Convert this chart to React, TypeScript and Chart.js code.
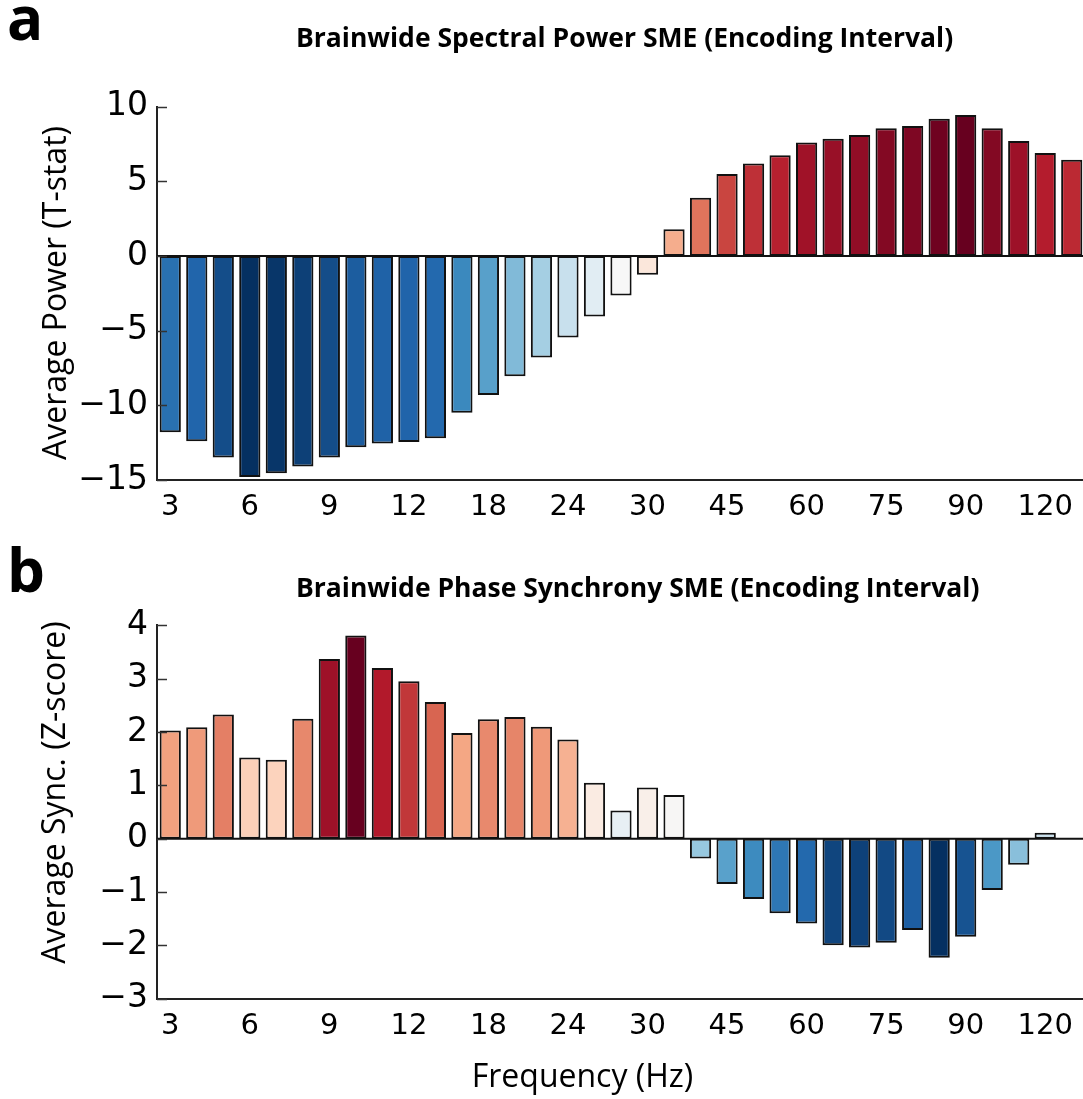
import React, { useEffect, useRef } from "react";
import { Chart, registerables } from "chart.js";

Chart.register(...registerables);

// ---------------- data ----------------
const FREQS = [3, 4, 5, 6, 7, 8, 9, 10, 11, 12, 14, 16, 18, 20, 22, 24, 26, 28, 30, 35, 40, 45, 50, 55, 60, 65, 70, 75, 80, 85, 90, 100, 110, 120, 130];
const TICK_FREQS = [3, 6, 9, 12, 18, 24, 30, 45, 60, 75, 90, 120];

const POWER_TSTAT = [
  -11.8, -12.4, -13.5, -14.8, -14.55, -14.1, -13.5, -12.8, -12.55, -12.45, -12.2,
  -10.5, -9.3, -8.05, -6.8, -5.45, -4.05, -2.65, -1.25, 1.8, 3.9, 5.5, 6.2,
  6.75, 7.6, 7.85, 8.1, 8.55, 8.7, 9.2, 9.45, 8.55, 7.7, 6.9, 6.45,
];

const SYNC_ZSCORE: (number | null)[] = [
  2.03, 2.09, 2.33, 1.52, 1.48, 2.25, 3.37, 3.81, 3.2, 2.95, 2.56, 1.98, 2.24,
  2.28, 2.1, 1.86, 1.05, 0.53, 0.96, 0.82, -0.37, -0.85, -1.13, -1.4, -1.59,
  -2.0, -2.04, -1.95, -1.71, -2.23, -1.84, -0.96, -0.49, 0.11, null,
];

const POWER_TICKS = { min: -15, max: 10, step: 5 };
const SYNC_TICKS = { min: -3, max: 4, step: 1 };

const TITLE_A = "Brainwide Spectral Power SME (Encoding Interval)";
const TITLE_B = "Brainwide Phase Synchrony SME (Encoding Interval)";
const YLABEL_A = "Average Power (T-stat)";
const YLABEL_B = "Average Sync. (Z-score)";
const XLABEL = "Frequency (Hz)";

// ---------------- colour map (RdBu_r) ----------------
const RDBU_R = ["#053061", "#2166ac", "#4393c3", "#92c5de", "#d1e5f0", "#f7f7f7", "#fddbc7", "#f4a582", "#d6604d", "#b2182b", "#67001f"];

function hexToRgb(h: string) {
  return [parseInt(h.slice(1, 3), 16), parseInt(h.slice(3, 5), 16), parseInt(h.slice(5, 7), 16)];
}
function cmap(t: number) {
  const tt = Math.max(0, Math.min(1, t));
  const x = tt * (RDBU_R.length - 1);
  const i = Math.min(Math.floor(x), RDBU_R.length - 2);
  const f = x - i;
  const a = hexToRgb(RDBU_R[i]);
  const b = hexToRgb(RDBU_R[i + 1]);
  const c = a.map((v, k) => Math.round(v + (b[k] - v) * f));
  return `rgb(${c[0]},${c[1]},${c[2]})`;
}
function colorsFor(values: (number | null)[]) {
  const nums = values.filter((v): v is number => v !== null);
  const lo = Math.min(...nums);
  const hi = Math.max(...nums);
  return values.map((v) => (v === null ? "rgba(0,0,0,0)" : cmap((v - lo) / (hi - lo))));
}

const minus = (v: number) => (v < 0 ? "\u2212" + Math.abs(v) : String(v));

// ---------------- plugin for zero line, inward ticks and figure text ----------------
type TextItem = { text: string; x: number; y: number; font: string; align?: CanvasTextAlign; rotate?: number };

const decorPlugin = {
  id: "figDecor",
  afterDatasetsDraw(chart: any) {
    const { ctx, chartArea, scales } = chart;
    const y0 = scales.y.getPixelForValue(0);
    ctx.save();
    ctx.strokeStyle = "#111";
    ctx.lineWidth = 2;
    ctx.beginPath();
    ctx.moveTo(chartArea.left, y0);
    ctx.lineTo(chartArea.right, y0);
    ctx.stroke();
    ctx.restore();
  },
  afterDraw(chart: any, _args: any, opts: any) {
    const { ctx, chartArea, scales } = chart;
    ctx.save();
    ctx.strokeStyle = "#333";
    ctx.lineWidth = 1.5;
    for (const t of scales.y.ticks) {
      const y = Math.round(scales.y.getPixelForValue(t.value)) + 0.5;
      ctx.beginPath();
      ctx.moveTo(chartArea.left, y);
      ctx.lineTo(chartArea.left + 10, y);
      ctx.stroke();
    }
    ctx.fillStyle = "#000";
    for (const it of (opts.texts || []) as TextItem[]) {
      ctx.save();
      ctx.font = it.font;
      ctx.textAlign = it.align || "left";
      ctx.textBaseline = "alphabetic";
      ctx.translate(it.x, it.y);
      if (it.rotate) ctx.rotate((it.rotate * Math.PI) / 180);
      ctx.fillText(it.text, 0, 0);
      ctx.restore();
    }
    ctx.restore();
  },
};

const X_TICK_FONT = { family: "DejaVu Sans", size: 29 };
const Y_TICK_FONT = { family: "DejaVu Sans", size: 33 };

function makeConfig(
  values: (number | null)[],
  ticks: { min: number; max: number; step: number },
  layoutTop: number,
  axisHeight: number,
  texts: TextItem[]
) {
  return {
    type: "bar" as const,
    data: {
      labels: FREQS.map(String),
      datasets: [
        {
          data: values,
          backgroundColor: colorsFor(values),
          borderColor: "#111",
          borderWidth: 2,
          borderSkipped: false,
          barPercentage: 0.8,
          categoryPercentage: 1,
        },
      ],
    },
    options: {
      responsive: false,
      animation: false,
      devicePixelRatio: 1,
      layout: { padding: { top: layoutTop, left: 0, right: 0, bottom: 0 } },
      plugins: {
        legend: { display: false },
        tooltip: { enabled: false },
        figDecor: { texts },
      },
      scales: {
        x: {
          type: "category",
          offset: true,
          grid: { display: false, drawTicks: false },
          border: { display: true, color: "#222", width: 2 },
          ticks: {
            autoSkip: false,
            maxRotation: 0,
            minRotation: 0,
            padding: 10,
            color: "#000",
            font: X_TICK_FONT,
            callback: (_v: any, i: number) => (TICK_FREQS.includes(FREQS[i]) ? String(FREQS[i]) : ""),
          },
          afterFit: (s: any) => {
            s.height = axisHeight;
          },
        },
        y: {
          min: ticks.min,
          max: ticks.max,
          grid: { display: false, drawTicks: false },
          border: { display: true, color: "#222", width: 2 },
          ticks: {
            stepSize: ticks.step,
            padding: 9,
            color: "#000",
            font: Y_TICK_FONT,
            callback: (v: any) => minus(Number(v)),
          },
          afterFit: (s: any) => {
            s.width = 157;
          },
        },
      },
    },
    plugins: [decorPlugin],
  };
}

function Panel({ top, height, config }: { top: number; height: number; config: any }) {
  const ref = useRef<HTMLCanvasElement>(null);
  useEffect(() => {
    const chart = new Chart(ref.current!, config);
    return () => chart.destroy();
  }, [config]);
  return (
    <canvas
      ref={ref}
      width={1085}
      height={height}
      style={{ position: "absolute", left: 0, top, width: 1085, height }}
    />
  );
}

const TITLE_FONT = 'bold 26.5px "Open Sans"';
const LETTER_FONT = 'bold 60px "Open Sans"';
const LABEL_FONT = '32px "Open Sans"';

const CONFIG_A = makeConfig(POWER_TSTAT, POWER_TICKS, 106.7, 65, [
  { text: "a", x: 7, y: 40, font: LETTER_FONT },
  { text: TITLE_A, x: 296, y: 47, font: TITLE_FONT },
  { text: YLABEL_A, x: 66, y: 293, font: LABEL_FONT, align: "center", rotate: -90 },
]);

const CONFIG_B = makeConfig(SYNC_ZSCORE, SYNC_TICKS, 80.3, 554 - 453.7, [
  { text: "b", x: 7, y: 47, font: LETTER_FONT },
  { text: TITLE_B, x: 296, y: 52, font: TITLE_FONT },
  { text: YLABEL_B, x: 65, y: 247.5, font: LABEL_FONT, align: "center", rotate: -90 },
  { text: XLABEL, x: 582.5, y: 542, font: LABEL_FONT, align: "center" },
]);

export default function App() {
  return (
    <div
      style={{
        position: "fixed",
        left: 0,
        top: 0,
        width: 1083,
        height: 1099,
        overflow: "hidden",
        background: "#fff",
      }}
    >
      <Panel top={0} height={545} config={CONFIG_A} />
      <Panel top={545} height={554} config={CONFIG_B} />
    </div>
  );
}
